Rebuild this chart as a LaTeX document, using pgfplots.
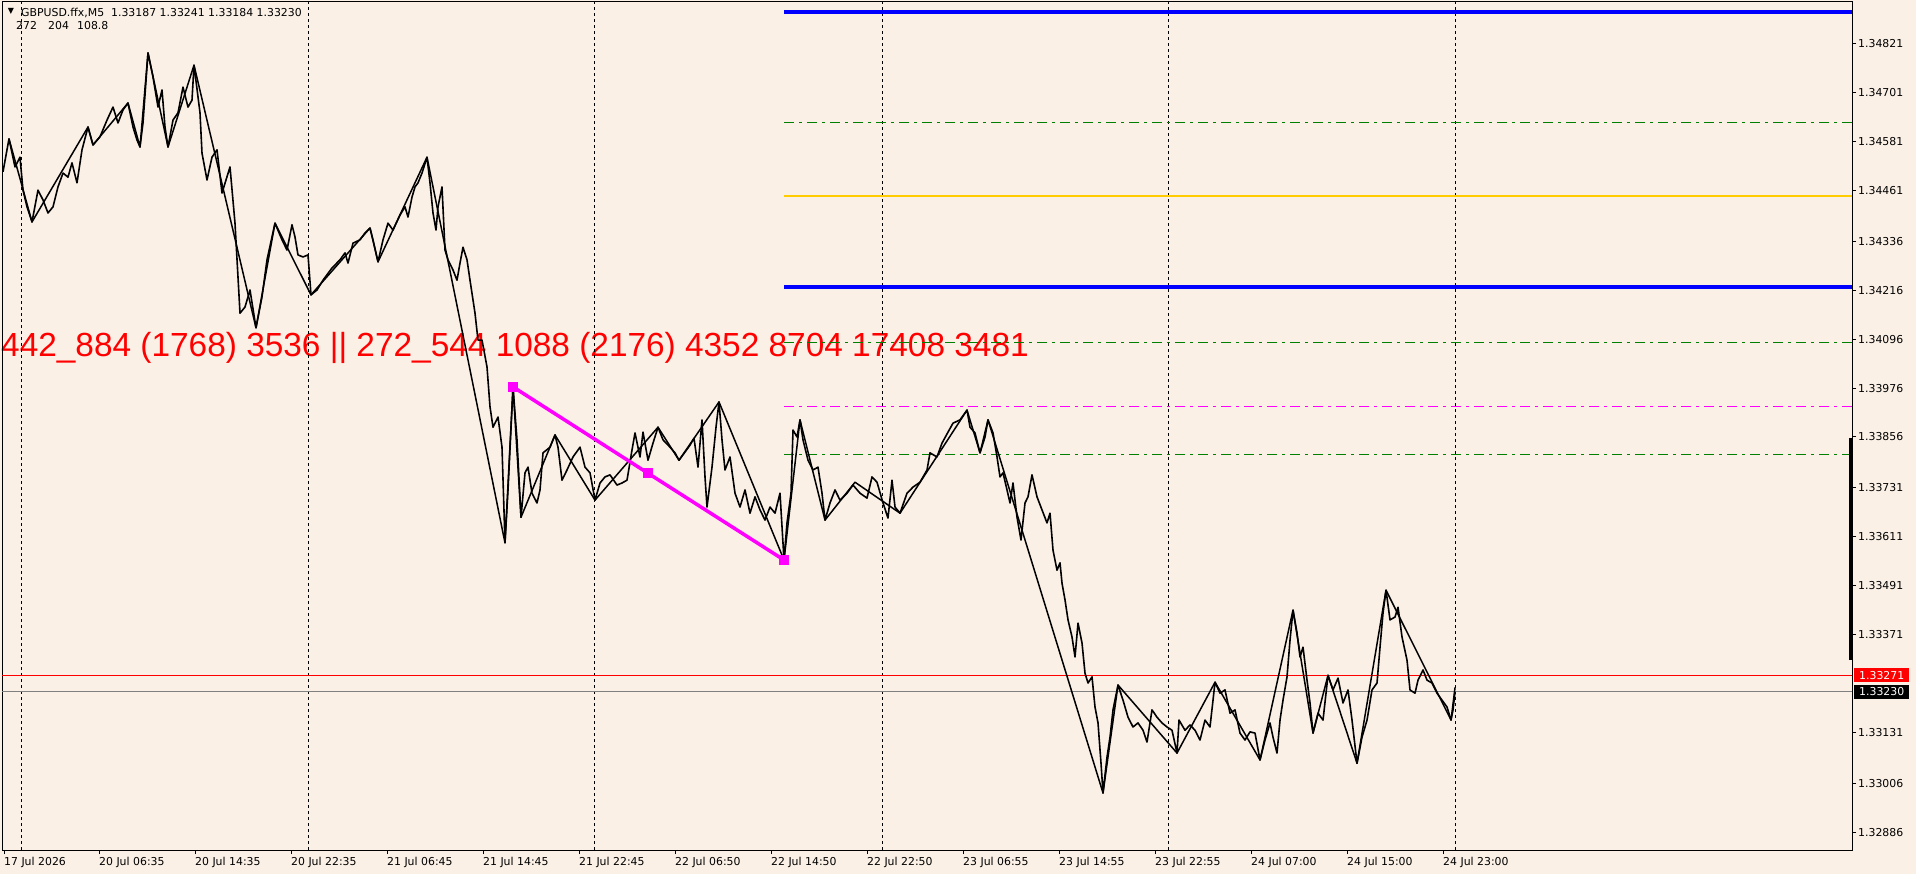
\documentclass[border=0pt]{standalone}
\usepackage{fontspec}
\setmainfont{DejaVu Sans}
\newfontfamily\arialf{Liberation Sans}
\usepackage{pgfplots}
\pgfplotsset{compat=1.18}
\definecolor{chartbg}{RGB}{250,240,230}
\definecolor{lvlgreen}{RGB}{0,128,0}
\definecolor{lvlgold}{RGB}{255,204,0}
\definecolor{lvlblue}{RGB}{0,0,255}
\definecolor{trendmag}{RGB}{255,0,255}
\newcommand\lblfont{\fontsize{10.9bp}{13bp}\selectfont}

\begin{document}
\begin{tikzpicture}
% chart background and free text (1bp = 1 px of the screenshot)
\fill[chartbg] (-2bp,-24bp) rectangle (1914bp,850bp);
\node[anchor=base west, inner sep=0pt, text=red, font=\arialf\fontsize{33.4bp}{36bp}\selectfont]
  at (-1bp,493bp) {442\_884 (1768) 3536 || 272\_544 1088 (2176) 4352 8704 17408 3481};
\node[anchor=center, inner sep=0pt, font=\fontsize{8bp}{8bp}\selectfont] at (9bp,838.5bp) {▼};
\node[anchor=base west, inner sep=0pt, font=\lblfont] at (19bp,833bp)
  {GBPUSD.ffx,M5\ \ 1.33187 1.33241 1.33184 1.33230};
\node[anchor=base west, inner sep=0pt, font=\lblfont] at (14bp,820bp) {272};
\node[anchor=base west, inner sep=0pt, font=\lblfont] at (46bp,820bp) {204};
\node[anchor=base west, inner sep=0pt, font=\lblfont] at (75bp,820bp) {108.8};

\begin{axis}[
    at={(0,0)}, anchor=south west,
    scale only axis, width=1850bp, height=848bp,
    xmin=2, xmax=1852, ymin=1.32842, ymax=1.34924,
    clip=false,
    axis line style={black, line width=1bp},
    tick align=outside, major tick length=4bp,
    tick style={black, line width=1bp},
    xtick pos=left, ytick pos=right, yticklabel pos=right,
    scaled y ticks=false,
    xtick={4,99,195,291,387,483,579,675,771,867,963,1059,1155,1251,1347,1443},
    xticklabels={17 Jul 2026, 20 Jul 06:35, 20 Jul 14:35, 20 Jul 22:35, 21 Jul 06:45,
      21 Jul 14:45, 21 Jul 22:45, 22 Jul 06:50, 22 Jul 14:50, 22 Jul 22:50,
      23 Jul 06:55, 23 Jul 14:55, 23 Jul 22:55, 24 Jul 07:00, 24 Jul 15:00, 24 Jul 23:00},
    xticklabel style={font=\lblfont, anchor=north west, inner sep=0pt, yshift=-3bp},
    ytick={1.32886,1.33006,1.33131,1.33371,1.33491,1.33611,1.33731,1.33856,
      1.33976,1.34096,1.34216,1.34336,1.34461,1.34581,1.34701,1.34821},
    yticklabels={1.32886,1.33006,1.33131,1.33371,1.33491,1.33611,1.33731,1.33856,
      1.33976,1.34096,1.34216,1.34336,1.34461,1.34581,1.34701,1.34821},
    yticklabel style={font=\lblfont, anchor=west, inner sep=0pt, xshift=2bp},
    extra x ticks={21.5,308,594,882,1168,1455},
    extra x tick labels={},
    extra x tick style={grid=major, major tick length=0pt,
      major grid style={black, line width=1bp, dash pattern=on 3bp off 3bp}},
]
% current price lines
\addplot[red, line width=1bp] coordinates {(2,1.33271) (1852,1.33271)};
\addplot[gray, line width=1bp] coordinates {(2,1.33230) (1852,1.33230)};
% levels
\addplot[lvlblue, line width=3.5bp] coordinates {(784,1.34900) (1852,1.34900)};
\addplot[lvlgreen, line width=1bp, dash pattern=on 10bp off 5bp on 3bp off 5bp] coordinates {(784,1.34627) (1852,1.34627)};
\addplot[lvlgold, line width=2.5bp] coordinates {(784,1.34448) (1852,1.34448)};
\addplot[lvlblue, line width=3.5bp] coordinates {(784,1.34224) (1852,1.34224)};
\addplot[lvlgreen, line width=1bp, dash pattern=on 10bp off 5bp on 3bp off 5bp] coordinates {(784,1.34087) (1852,1.34087)};
\addplot[trendmag, line width=1bp, dash pattern=on 10bp off 5bp on 3bp off 5bp] coordinates {(784,1.33930) (1852,1.33930)};
\addplot[lvlgreen, line width=1bp, dash pattern=on 10bp off 5bp on 3bp off 5bp] coordinates {(784,1.33814) (1852,1.33814)};
% close line
\addplot[black, line width=1.6bp, line join=round] coordinates {
(3,1.34507)(9,1.34588)(15,1.34519)(20,1.34543)(23,1.34462)(27,1.34421)(32,1.34384)(38,1.34462)
(43,1.34438)(48,1.34406)(53,1.34421)(58,1.34470)(63,1.34504)(68,1.34494)(72,1.34529)(77,1.34480)
(82,1.34561)(88,1.34617)(93,1.34573)(100,1.34593)(107,1.34634)(113,1.34666)(118,1.34627)(123,1.34659)
(128,1.34676)(133,1.34617)(137,1.34585)(140,1.34568)(143,1.34627)(148,1.34799)(153,1.34740)(158,1.34666)
(162,1.34708)(165,1.34617)(168,1.34568)(173,1.34634)(178,1.34652)(183,1.34715)(188,1.34666)(192,1.34683)
(194,1.34769)(200,1.34652)(202,1.34553)(207,1.34487)(212,1.34543)(217,1.34561)(222,1.34455)(230,1.34519)
(235,1.34381)(240,1.34160)(245,1.34175)(250,1.34217)(256,1.34124)(262,1.34200)(267,1.34291)(275,1.34381)
(282,1.34340)(287,1.34315)(292,1.34377)(295,1.34347)(298,1.34303)(303,1.34298)(308,1.34303)(311,1.34205)
(317,1.34217)(323,1.34241)(332,1.34271)(340,1.34291)(345,1.34308)(348,1.34283)(353,1.34332)(360,1.34340)
(365,1.34357)(370,1.34369)(373,1.34340)(378,1.34286)(383,1.34340)(388,1.34381)(393,1.34364)(400,1.34401)
(405,1.34421)(408,1.34396)(412,1.34445)(415,1.34470)(418,1.34480)(422,1.34504)(427,1.34543)(430,1.34480)
(433,1.34406)(436,1.34364)(438,1.34421)(442,1.34470)(445,1.34315)(448,1.34291)(453,1.34266)(457,1.34241)
(460,1.34283)(463,1.34322)(467,1.34291)(470,1.34241)(475,1.34160)(478,1.34094)(482,1.34094)(487,1.34028)
(490,1.33930)(493,1.33880)(498,1.33905)(502,1.33831)(505,1.33596)(508,1.33726)(513,1.33979)(517,1.33849)
(521,1.33659)(525,1.33768)(528,1.33782)(532,1.33718)(537,1.33694)(540,1.33726)(543,1.33817)(550,1.33831)
(555,1.33861)(558,1.33831)(562,1.33750)(567,1.33775)(573,1.33807)(580,1.33831)(585,1.33782)(590,1.33768)
(595,1.33701)(600,1.33743)(605,1.33758)(610,1.33763)(617,1.33738)(622,1.33743)(627,1.33750)(632,1.33824)
(635,1.33866)(640,1.33807)(643,1.33868)(648,1.33799)(653,1.33841)(658,1.33880)(663,1.33849)(670,1.33831)
(675,1.33817)(679,1.33799)(685,1.33819)(690,1.33836)(694,1.33853)(698,1.33782)(702,1.33898)(705,1.33758)
(707,1.33684)(712,1.33782)(716,1.33880)(719,1.33942)(722,1.33849)(725,1.33775)(730,1.33807)(735,1.33718)
(740,1.33684)(745,1.33726)(750,1.33669)(755,1.33709)(760,1.33677)(765,1.33652)(770,1.33684)(775,1.33669)
(780,1.33718)(784,1.33554)(787,1.33645)(791,1.33718)(793,1.33873)(797,1.33856)(800,1.33898)(803,1.33849)
(808,1.33799)(813,1.33775)(818,1.33782)(822,1.33718)(825,1.33652)(830,1.33694)(835,1.33726)(840,1.33701)
(847,1.33718)(853,1.33738)(860,1.33718)(867,1.33706)(872,1.33758)(877,1.33745)(883,1.33694)(888,1.33657)
(892,1.33750)(895,1.33684)(900,1.33669)(907,1.33718)(913,1.33733)(920,1.33745)(927,1.33775)(930,1.33817)
(937,1.33807)(942,1.33841)(948,1.33868)(953,1.33890)(960,1.33898)(967,1.33922)(970,1.33880)(975,1.33866)
(980,1.33817)(985,1.33856)(988,1.33898)(993,1.33866)(997,1.33807)(1000,1.33758)(1003,1.33768)(1007,1.33726)
(1010,1.33694)(1013,1.33743)(1017,1.33659)(1021,1.33603)(1025,1.33694)(1028,1.33709)(1032,1.33763)(1037,1.33709)
(1042,1.33677)(1047,1.33645)(1050,1.33669)(1053,1.33578)(1057,1.33529)(1060,1.33547)(1062,1.33497)(1065,1.33456)
(1068,1.33407)(1072,1.33365)(1075,1.33316)(1078,1.33399)(1082,1.33350)(1085,1.33276)(1088,1.33252)(1092,1.33267)
(1095,1.33193)(1098,1.33154)(1101,1.33055)(1103,1.32982)(1107,1.33070)(1110,1.33119)(1113,1.33186)(1118,1.33247)
(1123,1.33210)(1128,1.33168)(1133,1.33144)(1138,1.33154)(1143,1.33136)(1147,1.33107)(1152,1.33186)(1157,1.33168)
(1162,1.33154)(1167,1.33144)(1172,1.33136)(1177,1.33080)(1179,1.33161)(1185,1.33136)(1190,1.33149)(1195,1.33136)
(1200,1.33112)(1205,1.33161)(1210,1.33144)(1215,1.33254)(1220,1.33227)(1225,1.33235)(1230,1.33178)(1235,1.33186)
(1240,1.33129)(1245,1.33112)(1250,1.33132)(1255,1.33129)(1260,1.33063)(1265,1.33112)(1270,1.33154)(1273,1.33119)
(1277,1.33080)(1280,1.33161)(1283,1.33210)(1287,1.33267)(1290,1.33357)(1293,1.33431)(1297,1.33375)(1300,1.33316)
(1303,1.33340)(1307,1.33259)(1310,1.33203)(1313,1.33129)(1318,1.33178)(1323,1.33161)(1328,1.33271)(1333,1.33235)
(1338,1.33264)(1343,1.33203)(1348,1.33235)(1352,1.33161)(1357,1.33055)(1362,1.33119)(1367,1.33161)(1372,1.33235)
(1377,1.33252)(1380,1.33340)(1383,1.33424)(1386,1.33480)(1390,1.33407)(1395,1.33414)(1398,1.33438)(1402,1.33365)
(1407,1.33308)(1410,1.33235)(1415,1.33227)(1418,1.33259)(1423,1.33284)(1427,1.33259)(1432,1.33252)(1437,1.33227)
(1442,1.33210)(1447,1.33193)(1451,1.33161)(1453,1.33186)(1455,1.33230)
};
% zigzag
\addplot[black, line width=1.5bp, line join=round] coordinates {
(9,1.34588)(32,1.34384)(88,1.34617)(93,1.34573)(128,1.34676)(140,1.34568)(148,1.34799)(168,1.34568)
(194,1.34769)(256,1.34124)(275,1.34381)(311,1.34205)(370,1.34369)(378,1.34286)(427,1.34543)(505,1.33596)
(513,1.33979)(521,1.33659)(555,1.33861)(595,1.33701)(658,1.33880)(679,1.33799)(719,1.33942)(784,1.33554)
(800,1.33898)(825,1.33652)(855,1.33745)(900,1.33669)(967,1.33922)(980,1.33817)(988,1.33898)(1103,1.32982)
(1118,1.33247)(1177,1.33080)(1215,1.33254)(1260,1.33063)(1293,1.33431)(1313,1.33129)(1328,1.33271)(1357,1.33055)
(1386,1.33480)(1451,1.33161)(1455,1.33241)
};
% trend line
\addplot[trendmag, line width=3.5bp, mark=square*, mark size=3.2bp, mark options={solid}] coordinates {
(513,1.33979)(648,1.33767)(784,1.33554)};
% bar on the price scale
\addplot[black, line width=3.5bp] coordinates {(1851,1.33308) (1851,1.33853)};
% price labels
\node[fill=red, text=white, anchor=west, inner xsep=5bp, inner ysep=0pt, minimum height=14bp, font=\lblfont]
  at (axis cs:1854,1.33271) {1.33271};
\node[fill=black, text=white, anchor=west, inner xsep=5bp, inner ysep=0pt, minimum height=14bp, font=\lblfont]
  at (axis cs:1854,1.33230) {1.33230};
\end{axis}
\pgfresetboundingbox
\useasboundingbox (-2bp,-24bp) rectangle (1914bp,850bp);
\end{tikzpicture}
\end{document}
